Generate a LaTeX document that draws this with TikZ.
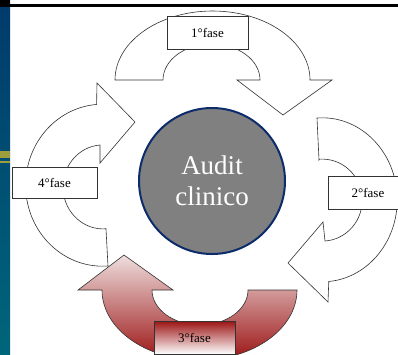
\documentclass[tikz,border=0pt]{standalone}
\usepackage{fontspec}
\setmainfont{Liberation Serif}
\definecolor{barTop}{HTML}{003A6B}
\definecolor{barBot}{HTML}{00667A}
\definecolor{stripe}{HTML}{9E9E3C}
\definecolor{circFill}{HTML}{808080}
\definecolor{circLine}{HTML}{0D2C6B}
\definecolor{redLight}{HTML}{EEDEDE}
\definecolor{redDark}{HTML}{9C1414}
\definecolor{lineGray}{HTML}{333333}
\begin{document}
\begin{tikzpicture}[x=1pt,y=-1pt,
  arrowshape/.style={draw=lineGray, line width=0.6pt, fill=white, line join=miter},
  phasebox/.style={draw=lineGray, line width=0.6pt, fill=white, inner sep=0pt,
    minimum width=81pt, minimum height=33pt, font=\fontsize{13}{15}\selectfont},
  centre/.style={circle, fill=circFill, draw=circLine, line width=2pt,
    minimum size=146pt, inner sep=0pt, text=white, align=center,
    font=\fontsize{27}{31}\selectfont}
]
\useasboundingbox (0,0) rectangle (398,354);
% background frame elements
\fill[white] (0,0) rectangle (398,354);
\shade[top color=barTop, bottom color=barBot] (0,0) rectangle (10,354);
\fill[stripe] (0,151) rectangle (10,158);
\fill[stripe] (0,161) rectangle (10,163);
\fill[black] (0,0) rectangle (10,7);
\fill[black] (10,4) rectangle (398,7);

% curved arrows
\draw[arrowshape] (163,80) -- (115,80)
  arc[start angle=180, end angle=360, x radius=97.5, y radius=69]
  -- (332,80) -- (283,115) -- (237,80) -- (260,80)
  arc[start angle=0, end angle=-180, x radius=48.5, y radius=36] -- cycle;

\draw[arrowshape] (319,160) -- (317,118)
  arc[start angle=-94, end angle=85, x radius=75, y radius=82]
  -- (328,302) -- (288,263) -- (323,222) -- (325,241)
  arc[start angle=86, end angle=-94, x radius=40, y radius=41] -- cycle;

\draw[arrowshape, fill=none, top color=redLight, bottom color=redDark] (248,290) -- (297,290)
  arc[start angle=0, end angle=180, x radius=97.5, y radius=70]
  -- (78,290) -- (124,255) -- (173,290) -- (152,290)
  arc[start angle=180, end angle=0, x radius=48, y radius=35] -- cycle;

\draw[arrowshape] (106,229) -- (108,266)
  arc[start angle=86, end angle=265.5, x radius=77, y radius=81]
  -- (97,83) -- (135,122) -- (100,163) -- (100,145)
  arc[start angle=-94.3, end angle=-274.3, x radius=40, y radius=42] -- cycle;

% phase boxes
\node[phasebox] (f1) at (207.5,32.5) {1°fase};
\node[phasebox, minimum width=80pt] (f2) at (368,192.5) {2°fase};
\node[phasebox, top color=redDark, bottom color=white] (f3) at (194.5,337.5) {3°fase};
\node[phasebox, minimum width=85pt, minimum height=31pt] (f4) at (54.5,182.5) {4°fase};

% centre
\node[centre] (audit) at (212,181) {Audit\\clinico};
\end{tikzpicture}
\end{document}
